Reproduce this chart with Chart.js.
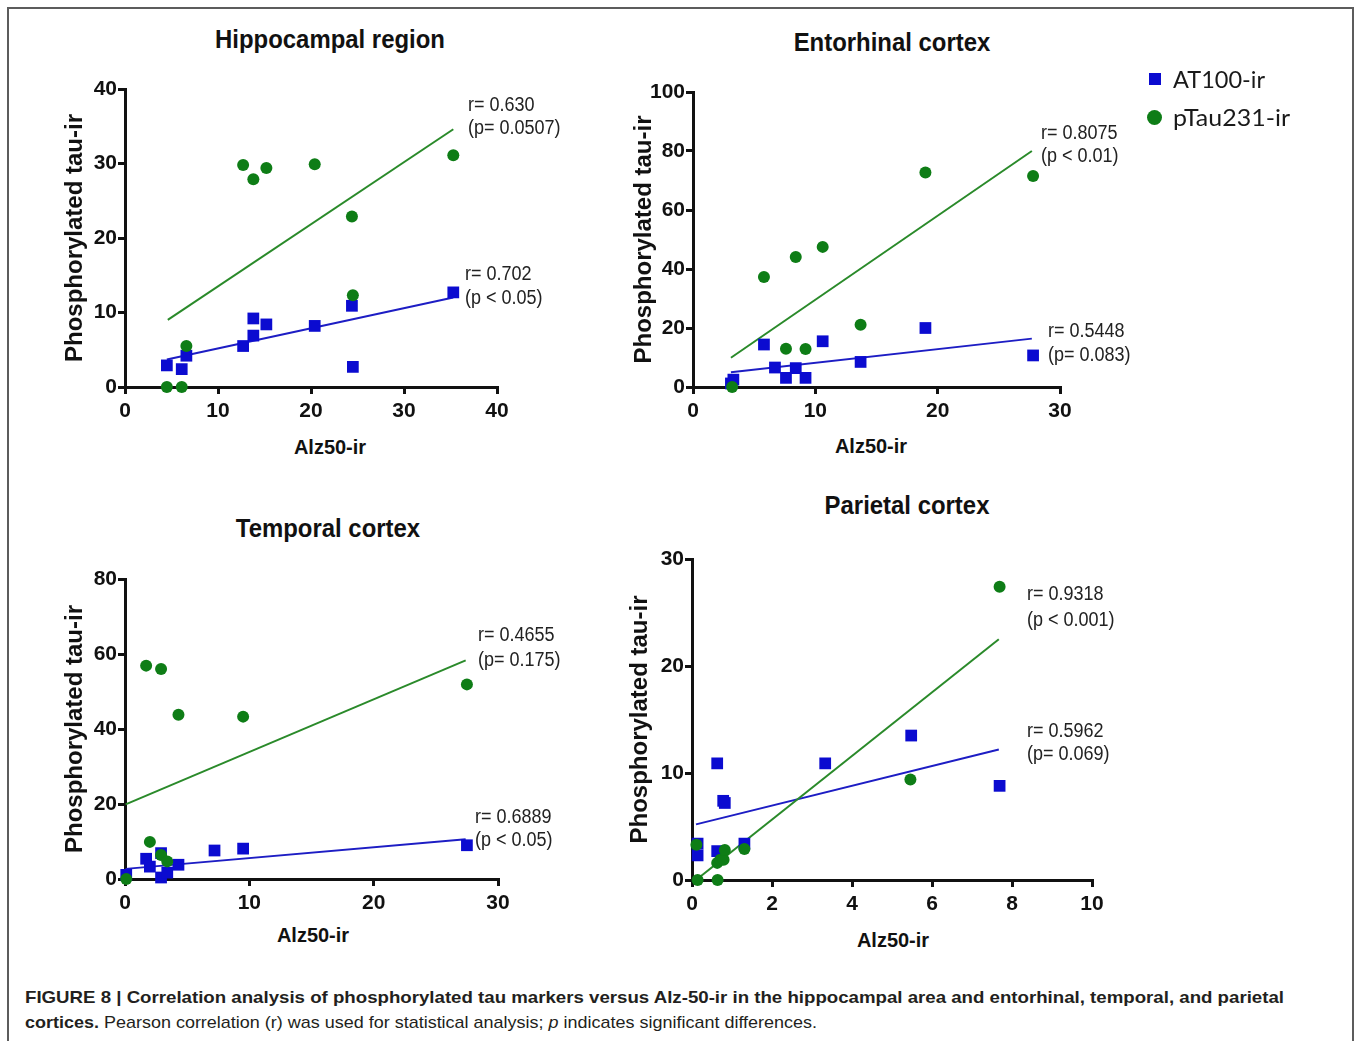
<!DOCTYPE html>
<html lang="en">
<head>
<meta charset="UTF-8">
<title>Figure 8 — phosphorylated tau vs Alz50-ir</title>
<script src="https://cdn.jsdelivr.net/npm/chart.js@4/dist/chart.umd.min.js"></script>
<style>
  * { box-sizing: border-box; margin: 0; padding: 0; }
  html, body { width: 1357px; height: 1041px; overflow: hidden; background: #fff; }
  body { position: relative; font-family: "Liberation Sans", Arial, sans-serif; color: #111; }
  .frame { position: absolute; left: 7px; top: 7px; width: 1347px; height: 1100px; border: 2px solid #5c5c5c; }
  .panel { position: absolute; }
  .title { position: absolute; font-weight: 700; font-size: 26px; line-height: 1; white-space: nowrap; transform: translate(-50%, -50%) scaleX(0.92); }
  .xtitle { position: absolute; font-weight: 700; font-size: 20px; line-height: 1; white-space: nowrap; transform: translate(-50%, -50%); }
  .note { position: absolute; font-size: 20px; line-height: 1; white-space: nowrap; color: #222; transform-origin: 0 50%; transform: translateY(-50%) scaleX(0.9); }
  .lg-mark { position: absolute; }
  .lg-txt { position: absolute; font-family: Lato, "Open Sans", sans-serif; font-size: 24px; line-height: 1; white-space: nowrap; color: #1a1a1a; transform-origin: 0 50%; }
  .cap { position: absolute; left: 25px; font-size: 17px; line-height: 1; white-space: nowrap; color: #231f20; transform-origin: 0 50%; }
</style>
</head>
<body>
<div class="frame"></div>

<!-- panels -->
<div class="panel" style="left:50px;top:74px"><canvas id="c-hippo" width="472" height="353"></canvas></div>
<div class="panel" style="left:619px;top:77px"><canvas id="c-ento" width="466" height="350"></canvas></div>
<div class="panel" style="left:50px;top:564px"><canvas id="c-temp" width="473" height="355"></canvas></div>
<div class="panel" style="left:615px;top:544px"><canvas id="c-pari" width="502" height="376"></canvas></div>

<div class="title" style="left:330px;top:39px">Hippocampal region</div>
<div class="title" style="left:892px;top:42px">Entorhinal cortex</div>
<div class="title" style="left:328px;top:528px">Temporal cortex</div>
<div class="title" style="left:907px;top:505px">Parietal cortex</div>

<div class="xtitle" style="left:330px;top:447px">Alz50-ir</div>
<div class="xtitle" style="left:871px;top:446px">Alz50-ir</div>
<div class="xtitle" style="left:313px;top:935px">Alz50-ir</div>
<div class="xtitle" style="left:893px;top:940px">Alz50-ir</div>

<div class="note" style="left:468px;top:104px">r= 0.630</div>
<div class="note" style="left:468px;top:127px">(p= 0.0507)</div>
<div class="note" style="left:465px;top:273px">r= 0.702</div>
<div class="note" style="left:465px;top:297px">(p &lt; 0.05)</div>

<div class="note" style="left:1041px;top:132px">r= 0.8075</div>
<div class="note" style="left:1041px;top:155px">(p &lt; 0.01)</div>
<div class="note" style="left:1048px;top:330px">r= 0.5448</div>
<div class="note" style="left:1048px;top:354px">(p= 0.083)</div>

<div class="note" style="left:478px;top:634px">r= 0.4655</div>
<div class="note" style="left:478px;top:659px">(p= 0.175)</div>
<div class="note" style="left:475px;top:816px">r= 0.6889</div>
<div class="note" style="left:475px;top:839px">(p &lt; 0.05)</div>

<div class="note" style="left:1027px;top:593px">r= 0.9318</div>
<div class="note" style="left:1027px;top:619px">(p &lt; 0.001)</div>
<div class="note" style="left:1027px;top:730px">r= 0.5962</div>
<div class="note" style="left:1027px;top:753px">(p= 0.069)</div>

<!-- legend -->
<div class="lg-mark" style="left:1149px;top:73px;width:12px;height:12px;background:#0b0bd0"></div>
<div class="lg-txt" id="lg1" style="left:1173px;top:79px">AT100-ir</div>
<div class="lg-mark" style="left:1147px;top:110px;width:15px;height:15px;border-radius:50%;background:#0e7d16"></div>
<div class="lg-txt" id="lg2" style="left:1173px;top:117px">pTau231-ir</div>

<!-- caption -->
<div class="cap" id="cap1" style="top:997px"><b>FIGURE 8 | Correlation analysis of phosphorylated tau markers versus Alz-50-ir in the hippocampal area and entorhinal, temporal, and parietal</b></div>
<div class="cap" id="cap2" style="top:1022px"><b>cortices.</b> Pearson correlation (r) was used for statistical analysis; <i>p</i> indicates significant differences.</div>

<script>
// ---- data (x = Alz50-ir, y = phosphorylated tau-ir) ----

// Hippocampal region
const hipXTicks = [0, 10, 20, 30, 40];
const hipYTicks = [0, 10, 20, 30, 40];
const hipAt100X = [4.5, 6.1, 6.6, 12.7, 13.8, 13.8, 15.2, 20.4, 24.4, 24.5, 35.3];
const hipAt100Y = [2.9, 2.4, 4.2, 5.5, 9.2, 6.9, 8.4, 8.2, 10.9, 2.7, 12.7];
const hipPtauX = [4.5, 6.1, 6.6, 12.7, 13.8, 15.2, 20.4, 24.4, 24.5, 35.3];
const hipPtauY = [0, 0, 5.5, 29.8, 27.9, 29.4, 29.9, 22.9, 12.3, 31.1];
const hipAt100FitX = [4.5, 35.3];
const hipAt100FitY = [3.7, 12.0];
const hipPtauFitX = [4.6, 35.3];
const hipPtauFitY = [9.0, 34.6];

// Entorhinal cortex
const entXTicks = [0, 10, 20, 30];
const entYTicks = [0, 20, 40, 60, 80, 100];
const entAt100X = [3.1, 3.3, 5.8, 6.7, 7.6, 8.4, 9.2, 10.6, 13.7, 19.0, 27.8];
const entAt100Y = [1.2, 2.5, 14.4, 6.6, 3.1, 6.4, 3.1, 15.5, 8.5, 20.0, 10.7];
const entPtauX = [3.2, 5.8, 7.6, 8.4, 9.2, 10.6, 13.7, 19.0, 27.8];
const entPtauY = [0, 37.3, 13.0, 44.1, 12.9, 47.5, 21.1, 72.7, 71.5];
const entAt100FitX = [3.1, 27.7];
const entAt100FitY = [5.0, 16.4];
const entPtauFitX = [3.1, 27.7];
const entPtauFitY = [9.9, 80.0];

// Temporal cortex
const tmpXTicks = [0, 10, 20, 30];
const tmpYTicks = [0, 20, 40, 60, 80];
const tmpAt100X = [0.1, 1.7, 2.0, 2.9, 2.9, 3.4, 4.3, 7.2, 9.5, 27.5];
const tmpAt100Y = [1.1, 5.4, 3.3, 6.9, 0.4, 1.7, 3.8, 7.6, 8.1, 9.0];
const tmpPtauX = [0.1, 1.7, 2.0, 2.9, 2.9, 3.4, 4.3, 9.5, 27.5];
const tmpPtauY = [0, 56.9, 9.9, 56.0, 6.4, 4.7, 43.8, 43.3, 51.9];
const tmpAt100FitX = [0.05, 27.4];
const tmpAt100FitY = [2.7, 10.6];
const tmpPtauFitX = [0.05, 27.4];
const tmpPtauFitY = [19.9, 58.3];

// Parietal cortex
const parXTicks = [0, 2, 4, 6, 8, 10];
const parYTicks = [0, 10, 20, 30];
const parAt100X = [0.14, 0.14, 0.63, 0.63, 0.78, 0.82, 1.31, 3.33, 5.48, 7.69];
const parAt100Y = [3.4, 2.3, 10.9, 2.7, 7.4, 7.2, 3.4, 10.9, 13.5, 8.8];
const parPtauX = [0.11, 0.14, 0.64, 0.63, 0.71, 0.79, 0.82, 1.31, 5.46, 7.69];
const parPtauY = [3.3, 0, 0, 1.6, 1.9, 1.9, 2.8, 2.9, 9.4, 27.4];
const parAt100FitX = [0.1, 7.67];
const parAt100FitY = [5.2, 12.2];
const parPtauFitX = [0.1, 7.67];
const parPtauFitY = [0.0, 22.5];

// ---- styling ----
const BLUE = '#0b0bd0';
const GREEN = '#0e7d16';
const BLUE_LINE = '#1d1dc4';
const GREEN_LINE = '#2a8a2a';
const INK = '#111';

Chart.defaults.font.family = '"Liberation Sans", Arial, sans-serif';

const pairs = (xs, ys) => xs.map((x, i) => ({ x, y: ys[i] }));

// fixed-size axis boxes so the plot areas land where the figure has them
function axis(ticks, fixed, tickPad, extra) {
  return Object.assign({
    type: 'linear',
    min: ticks[0],
    max: ticks[ticks.length - 1],
    afterBuildTicks: s => { s.ticks = ticks.map(v => ({ value: v })); },
    afterFit: s => {
      Object.assign(s, fixed);
      s.paddingLeft = s.paddingRight = s.paddingTop = s.paddingBottom = 0;
    },
    ticks: { color: INK, font: { size: 21, weight: 'bold' }, padding: tickPad, maxRotation: 0, autoSkip: false },
    grid: { display: true, drawOnChartArea: false, drawTicks: true, tickLength: 7, color: INK, lineWidth: 3 },
    border: { display: true, color: INK, width: 3 },
  }, extra);
}

function buildPanel(id, yAxisWidth, xTicks, yTicks, at100X, at100Y, ptauX, ptauY, at100FitX, at100FitY, ptauFitX, ptauFitY) {
  new Chart(document.getElementById(id), {
    type: 'scatter',
    data: {
      datasets: [
        { label: 'AT100-ir', data: pairs(at100X, at100Y), pointStyle: 'rect', pointRadius: 8.3,
          pointBackgroundColor: BLUE, pointBorderWidth: 0, order: 2, clip: false },
        { label: 'pTau231-ir', data: pairs(ptauX, ptauY), pointStyle: 'circle', pointRadius: 6,
          pointBackgroundColor: GREEN, pointBorderWidth: 0, order: 1, clip: false },
        { label: 'AT100 fit', data: pairs(at100FitX, at100FitY), showLine: true, pointRadius: 0,
          borderColor: BLUE_LINE, borderWidth: 2, order: 4 },
        { label: 'pTau231 fit', data: pairs(ptauFitX, ptauFitY), showLine: true, pointRadius: 0,
          borderColor: GREEN_LINE, borderWidth: 2, order: 3 },
      ],
    },
    options: {
      responsive: false,
      devicePixelRatio: 1,
      animation: false,
      events: [],
      layout: { padding: { left: 0, right: 25, top: 15, bottom: 0 } },
      plugins: { legend: { display: false }, tooltip: { enabled: false } },
      scales: {
        x: axis(xTicks, { height: 40 }, 5),
        y: axis(yTicks, { width: yAxisWidth }, 1, {
          title: { display: true, text: 'Phosphorylated tau-ir', color: INK,
                   font: { size: 24, weight: 'bold' }, padding: { top: 11, bottom: 0 } },
        }),
      },
    },
  });
}

buildPanel('c-hippo', 75, hipXTicks, hipYTicks, hipAt100X, hipAt100Y, hipPtauX, hipPtauY,
  hipAt100FitX, hipAt100FitY, hipPtauFitX, hipPtauFitY);
buildPanel('c-ento', 74, entXTicks, entYTicks, entAt100X, entAt100Y, entPtauX, entPtauY,
  entAt100FitX, entAt100FitY, entPtauFitX, entPtauFitY);
buildPanel('c-temp', 75, tmpXTicks, tmpYTicks, tmpAt100X, tmpAt100Y, tmpPtauX, tmpPtauY,
  tmpAt100FitX, tmpAt100FitY, tmpPtauFitX, tmpPtauFitY);
buildPanel('c-pari', 77, parXTicks, parYTicks, parAt100X, parAt100Y, parPtauX, parPtauY,
  parAt100FitX, parAt100FitY, parPtauFitX, parPtauFitY);

// squeeze text lines to the widths they have in the figure
function fitWidth(id, target) {
  const el = document.getElementById(id);
  el.style.transform = 'translateY(-50%)';
  const w = el.getBoundingClientRect().width;
  el.style.transform = 'translateY(-50%) scaleX(' + (target / w) + ')';
}
fitWidth('cap1', 1259);
fitWidth('cap2', 792);
fitWidth('lg1', 92);
fitWidth('lg2', 117);
</script>
</body>
</html>
